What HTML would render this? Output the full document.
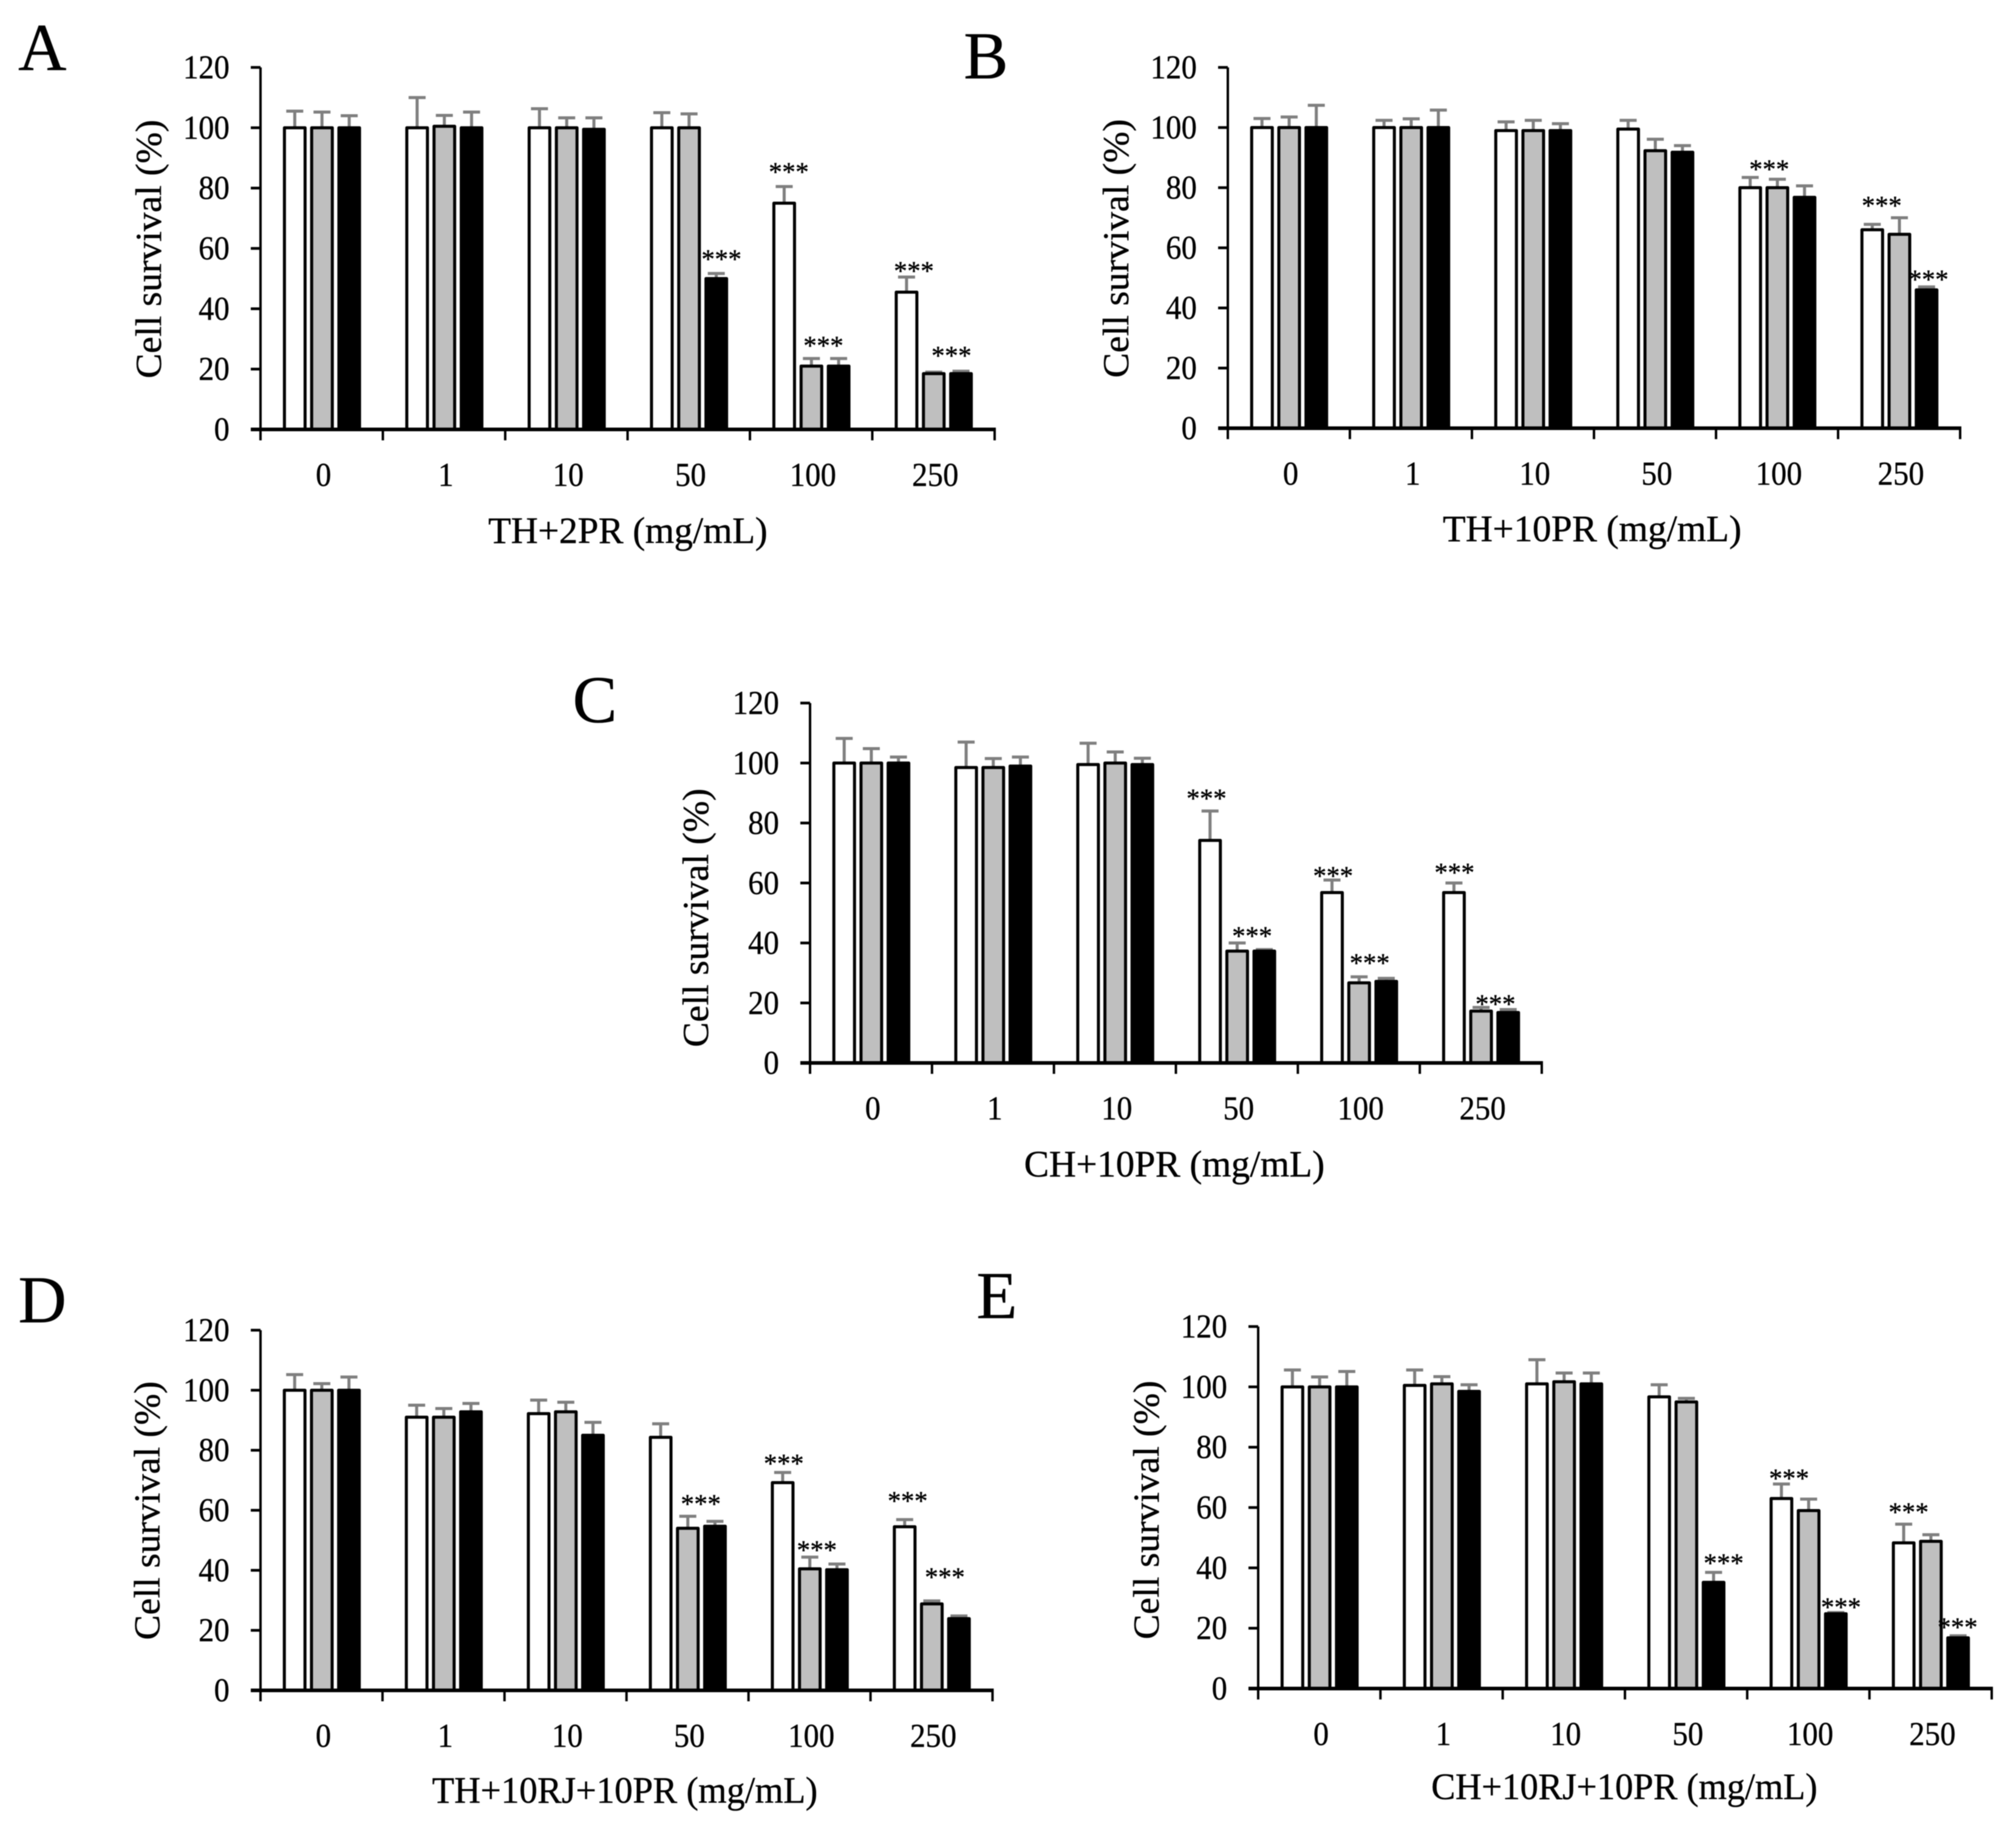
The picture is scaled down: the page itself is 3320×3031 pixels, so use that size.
<!DOCTYPE html>
<html lang="en">
<head>
<meta charset="utf-8">
<title>Cell survival bar charts</title>
<style>
  html, body { margin: 0; padding: 0; background: #fff; }
  body { width: 3320px; height: 3031px; overflow: hidden; }
  #figure { display: block; filter: blur(0.8px); }
  text { font-family: "Liberation Serif", serif; fill: #000; stroke: #000; stroke-width: 0.5px; }
</style>
</head>
<body>
<svg id="figure" xmlns="http://www.w3.org/2000/svg" width="3320" height="3031" viewBox="0 0 3320 3031"></svg>
<script>
const categories = ['0', '1', '10', '50', '100', '250'];
const yTicks = [0, 20, 40, 60, 80, 100, 120];
const yAxisLabel = 'Cell survival (%)';

const panelA_white = [100, 100, 100, 100, 75, 45.5];
const panelA_gray = [100, 100.5, 100, 100, 21, 18.5];
const panelA_black = [100, 100, 99.5, 50, 21, 18.5];
const panelA_whiteErr = [5.5, 10, 6.3, 5, 5.5, 5];
const panelA_grayErr = [5.2, 3.6, 3.3, 4.6, 2.5, 0.5];
const panelA_blackErr = [4, 5.2, 3.8, 1.7, 2.5, 0.8];
const panelA_starGroup = [3, 4, 4, 5, 5];
const panelA_starSlot = [2.19, 0.17, 1.44, 0.27, 1.65];
const panelA_starLift = [5.9, 6, 5.4, 3.2, 6.3];

const panelB_white = [100, 100, 99, 99.5, 80, 66];
const panelB_gray = [100, 100, 99, 92.3, 80, 64.5];
const panelB_black = [100, 100, 99, 91.8, 76.8, 46];
const panelB_whiteErr = [3, 2.4, 2.9, 2.9, 3.4, 1.8];
const panelB_grayErr = [3.5, 2.9, 3.4, 3.8, 2.8, 5.5];
const panelB_blackErr = [7.4, 5.8, 2.3, 2.2, 3.8, 1];
const panelB_starGroup = [4, 5, 5];
const panelB_starSlot = [0.7, 0.35, 2.07];
const panelB_starLift = [4.5, 7.4, 3.6];

const panelC_white = [100, 98.5, 99.5, 74.2, 56.8, 56.8];
const panelC_gray = [100, 98.5, 100, 37.3, 26.7, 17.3];
const panelC_black = [100, 99, 99.5, 37.3, 27.2, 16.8];
const panelC_whiteErr = [8.2, 8.5, 7.1, 9.8, 4.2, 3.2];
const panelC_grayErr = [4.8, 3, 3.7, 2.7, 2, 1.2];
const panelC_blackErr = [2, 3, 2.1, 0.5, 1, 1];
const panelC_starGroup = [3, 3, 4, 4, 5, 5];
const panelC_starSlot = [-0.13, 1.55, 0.04, 1.39, 0.02, 1.53];
const panelC_starLift = [5.3, 5.6, 2.5, 5.7, 4.6, 3];

const panelD_white = [100, 91, 92.2, 84.3, 69.2, 54.5];
const panelD_gray = [100, 91, 92.8, 54, 40.5, 28.8];
const panelD_black = [100, 92.8, 85, 54.7, 40.2, 23.9];
const panelD_whiteErr = [5.2, 4, 4.5, 4.5, 3.4, 2.4];
const panelD_grayErr = [2.2, 2.9, 3.2, 4, 3.9, 1];
const panelD_blackErr = [4.4, 2.8, 4.3, 1.6, 1.9, 0.9];
const panelD_starGroup = [3, 4, 4, 5, 5];
const panelD_starSlot = [1.48, 0.04, 1.26, 0.11, 1.48];
const panelD_starLift = [5.2, 4.1, 3.5, 7.4, 9.1];

const panelE_white = [100, 100.5, 101, 96.7, 63, 48.3];
const panelE_gray = [100, 101, 101.7, 95, 59, 48.8];
const panelE_black = [100, 98.5, 101, 35.2, 24.8, 16.8];
const panelE_whiteErr = [5.6, 5.1, 8, 4, 4.8, 6.2];
const panelE_grayErr = [3.3, 2.4, 2.9, 1.2, 3.8, 2.2];
const panelE_blackErr = [5.1, 2.2, 3.6, 3.3, 0.4, 0.7];
const panelE_starGroup = [3, 4, 4, 5, 5];
const panelE_starSlot = [2.37, 0.28, 2.19, 0.18, 1.98];
const panelE_starLift = [4.2, 3, 2.9, 5.1, 3.9];

const panels = [
  { key: 'a', letter: 'A', title: 'TH+2PR (mg/mL)',
    series: [panelA_white, panelA_gray, panelA_black], errs: [panelA_whiteErr, panelA_grayErr, panelA_blackErr],
    starGroup: panelA_starGroup, starSlot: panelA_starSlot, starLift: panelA_starLift,
    left: 429, right: 1638, top: 111, bottom: 707,
    letterX: 30, letterY: 115, yTitleX: 265, yTitleY: 410, titleX: 1034, titleY: 894, titleLen: 460 },
  { key: 'b', letter: 'B', title: 'TH+10PR (mg/mL)',
    series: [panelB_white, panelB_gray, panelB_black], errs: [panelB_whiteErr, panelB_grayErr, panelB_blackErr],
    starGroup: panelB_starGroup, starSlot: panelB_starSlot, starLift: panelB_starLift,
    left: 2022, right: 3228, top: 111, bottom: 705,
    letterX: 1587, letterY: 129, yTitleX: 1858, yTitleY: 409, titleX: 2622, titleY: 891, titleLen: 492 },
  { key: 'c', letter: 'C', title: 'CH+10PR (mg/mL)',
    series: [panelC_white, panelC_gray, panelC_black], errs: [panelC_whiteErr, panelC_grayErr, panelC_blackErr],
    starGroup: panelC_starGroup, starSlot: panelC_starSlot, starLift: panelC_starLift,
    left: 1334, right: 2539, top: 1157.5, bottom: 1750,
    letterX: 943, letterY: 1189, yTitleX: 1166, yTitleY: 1511, titleX: 1934, titleY: 1937, titleLen: 495 },
  { key: 'd', letter: 'D', title: 'TH+10RJ+10PR (mg/mL)',
    series: [panelD_white, panelD_gray, panelD_black], errs: [panelD_whiteErr, panelD_grayErr, panelD_blackErr],
    starGroup: panelD_starGroup, starSlot: panelD_starSlot, starLift: panelD_starLift,
    left: 429, right: 1634.5, top: 2190, bottom: 2783,
    letterX: 30, letterY: 2177, yTitleX: 262.5, yTitleY: 2487, titleX: 1029, titleY: 2968, titleLen: 635 },
  { key: 'e', letter: 'E', title: 'CH+10RJ+10PR (mg/mL)',
    series: [panelE_white, panelE_gray, panelE_black], errs: [panelE_whiteErr, panelE_grayErr, panelE_blackErr],
    starGroup: panelE_starGroup, starSlot: panelE_starSlot, starLift: panelE_starLift,
    left: 2072, right: 3280, top: 2184, bottom: 2780,
    letterX: 1608, letterY: 2170, yTitleX: 1908, yTitleY: 2486, titleX: 2675, titleY: 2962, titleLen: 636 }
];

const seriesNames = ['white', 'gray', 'black'];
const seriesFill = ['#ffffff', '#bfbfbf', '#000000'];
const yMax = 120;
const firstSlot = 0.28;
const slotStep = 0.2225;
const barWidth = 34;

const SVG_NS = 'http://www.w3.org/2000/svg';
const figure = document.getElementById('figure');

function mk(tag, attrs, parent, content) {
  const el = document.createElementNS(SVG_NS, tag);
  for (const k in attrs) el.setAttribute(k, attrs[k]);
  if (content !== undefined) el.textContent = content;
  parent.appendChild(el);
  return el;
}

panels.forEach(function (p) {
  const g = mk('g', {}, figure);
  
  

  const yScale = function (v) { return p.bottom - (v / yMax) * (p.bottom - p.top); };
  const groupW = (p.right - p.left) / categories.length;
  const xScale = function (groupIndex, slot) { return p.left + groupW * (groupIndex + firstSlot + slot * slotStep); };

  const letter = mk('text', { x: p.letterX, y: p.letterY, 'font-size': 110 }, g, p.letter);
  
  

  p.series.forEach(function (values, s) {
    values.forEach(function (v, i) {
      const cx = xScale(i, s);
      const top = yScale(v + p.errs[s][i]);
      const stem = mk('line', { x1: cx, x2: cx, y1: yScale(v), y2: top, stroke: '#7f7f7f', 'stroke-width': 5 }, g);
      
      
      const cap = mk('line', { x1: cx - 14, x2: cx + 14, y1: top, y2: top, stroke: '#7f7f7f', 'stroke-width': 5 }, g);
      
      
    });
  });

  p.series.forEach(function (values, s) {
    values.forEach(function (v, i) {
      const cx = xScale(i, s);
      const bar = mk('rect', {
        x: cx - barWidth / 2, y: yScale(v), width: barWidth, height: p.bottom - yScale(v),
        fill: seriesFill[s], stroke: '#000', 'stroke-width': 5, 'stroke-linejoin': 'round'
      }, g);
      
      
    });
  });

  const yAxis = mk('line', { x1: p.left, x2: p.left, y1: p.top, y2: p.bottom, stroke: '#000', 'stroke-width': 4 }, g);
  
  

  const xAxis = mk('line', { x1: p.left - 16, x2: p.right + 2, y1: p.bottom, y2: p.bottom, stroke: '#000', 'stroke-width': 6 }, g);
  
  

  yTicks.forEach(function (t) {
    const y = yScale(t);
    const tick = mk('line', { x1: p.left - 16, x2: p.left, y1: y, y2: y, stroke: '#000', 'stroke-width': 4.5 }, g);
    
    
    const label = mk('text', {
      x: p.left - 51, y: y + 18, 'font-size': 55, 'text-anchor': 'end',
      textLength: String(t).length * 25.5, lengthAdjust: 'spacingAndGlyphs'
    }, g, String(t));
    
    
  });

  for (let i = 0; i <= categories.length; i++) {
    const x = p.left + i * groupW;
    const tick = mk('line', { x1: x, x2: x, y1: p.bottom, y2: p.bottom + 18, stroke: '#000', 'stroke-width': 4 }, g);
    
    
  }

  categories.forEach(function (c, i) {
    const label = mk('text', {
      x: p.left + (i + 0.5) * groupW + 3, y: p.bottom + 93, 'font-size': 55, 'text-anchor': 'middle',
      textLength: c.length * 25.5, lengthAdjust: 'spacingAndGlyphs'
    }, g, c);
    
    
  });

  p.starGroup.forEach(function (grp, k) {
    const slot = p.starSlot[k];
    const anchor = Math.max(0, Math.min(2, Math.round(slot)));
    const level = p.series[anchor][grp] + p.errs[anchor][grp] + p.starLift[k];
    const stars = mk('text', {
      x: xScale(grp, slot), y: yScale(level) + 20, 'font-size': 44, 'text-anchor': 'middle'
    }, g, '***');
    
    
  });

  const yTitle = mk('text', {
    x: p.yTitleX, y: p.yTitleY, 'font-size': 60, 'text-anchor': 'middle',
    textLength: 426, lengthAdjust: 'spacingAndGlyphs',
    transform: 'rotate(-90 ' + p.yTitleX + ' ' + p.yTitleY + ')'
  }, g, yAxisLabel);
  
  

  const xTitle = mk('text', {
    x: p.titleX, y: p.titleY, 'font-size': 61, 'text-anchor': 'middle',
    textLength: p.titleLen, lengthAdjust: 'spacingAndGlyphs'
  }, g, p.title);
  
  
});
</script>
</body>
</html>
